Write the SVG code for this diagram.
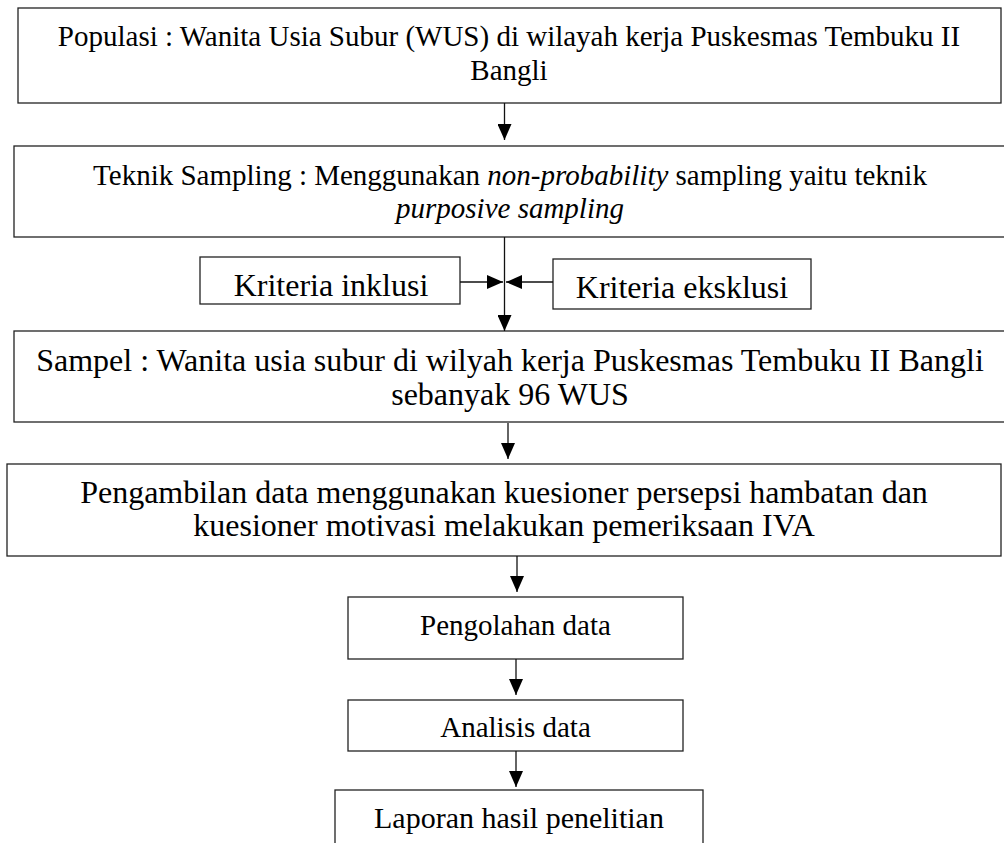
<svg xmlns="http://www.w3.org/2000/svg" width="1004" height="843" viewBox="0 0 1004 843">
<style>
.box{fill:#fff;stroke:#222;stroke-width:1.3}
.t{font-family:"Liberation Serif","Times New Roman",serif;fill:#000;text-anchor:middle}
.s29{font-size:29px}
.s32{font-size:32px}
.s30{font-size:30px}
.conn line{stroke:#111;stroke-width:1.3;fill:none}
</style>
<defs>
<marker id="ah" viewBox="0 0 16 14" refX="16" refY="7" markerWidth="16" markerHeight="14" markerUnits="userSpaceOnUse" orient="auto">
<path d="M0,0 L16,7 L0,14 z" fill="#000"/>
</marker>
</defs>
<rect width="1004" height="843" fill="#fff"/>
<g id="populasi">
<rect class="box" x="18" y="8" width="983" height="95"/>
<text class="t s29" x="509" y="46">Populasi : Wanita Usia Subur (WUS) di wilayah kerja Puskesmas Tembuku II</text>
<text class="t s29" x="509" y="80">Bangli</text>
</g>
<g id="teknik">
<rect class="box" x="14" y="146" width="1000" height="91"/>
<text class="t s29" x="510" y="185">Teknik Sampling : Menggunakan <tspan font-style="italic">non-probability</tspan> sampling yaitu teknik</text>
<text class="t s29" x="510" y="218" font-style="italic">purposive sampling</text>
</g>
<g id="inklusi">
<rect class="box" x="200" y="257" width="260" height="47"/>
<text class="t s32" x="331" y="296">Kriteria inklusi</text>
</g>
<g id="eksklusi">
<rect class="box" x="553" y="259" width="258" height="50"/>
<text class="t s32" x="682" y="298">Kriteria eksklusi</text>
</g>
<g id="sampel">
<rect class="box" x="14" y="331" width="1000" height="91"/>
<text class="t s32" x="510" y="371">Sampel : Wanita usia subur di wilyah kerja Puskesmas Tembuku II Bangli</text>
<text class="t s32" x="510" y="405">sebanyak 96 WUS</text>
</g>
<g id="pengambilan">
<rect class="box" x="7" y="464" width="994" height="92"/>
<text class="t s32" x="504" y="503">Pengambilan data menggunakan kuesioner persepsi hambatan dan</text>
<text class="t s32" x="504" y="536">kuesioner motivasi melakukan pemeriksaan IVA</text>
</g>
<g id="pengolahan">
<rect class="box" x="348" y="597" width="335" height="62"/>
<text class="t s29" x="515.5" y="635">Pengolahan data</text>
</g>
<g id="analisis">
<rect class="box" x="348" y="700" width="335" height="51"/>
<text class="t s29" x="515.5" y="737">Analisis data</text>
</g>
<g id="laporan">
<rect class="box" x="335" y="790" width="368" height="70"/>
<text class="t s30" x="519" y="828">Laporan hasil penelitian</text>
</g>
<g class="conn" id="connectors">
<line x1="504.5" y1="103" x2="504.5" y2="140" marker-end="url(#ah)"/>
<line x1="504.5" y1="237" x2="504.5" y2="331" marker-end="url(#ah)"/>
<line x1="460" y1="282" x2="503" y2="282" marker-end="url(#ah)"/>
<line x1="553" y1="282" x2="506" y2="282" marker-end="url(#ah)"/>
<line x1="508" y1="423" x2="508" y2="459" marker-end="url(#ah)"/>
<line x1="517" y1="556" x2="517" y2="592" marker-end="url(#ah)"/>
<line x1="516" y1="659" x2="516" y2="695" marker-end="url(#ah)"/>
<line x1="516" y1="751" x2="516" y2="787" marker-end="url(#ah)"/>
</g>
</svg>
